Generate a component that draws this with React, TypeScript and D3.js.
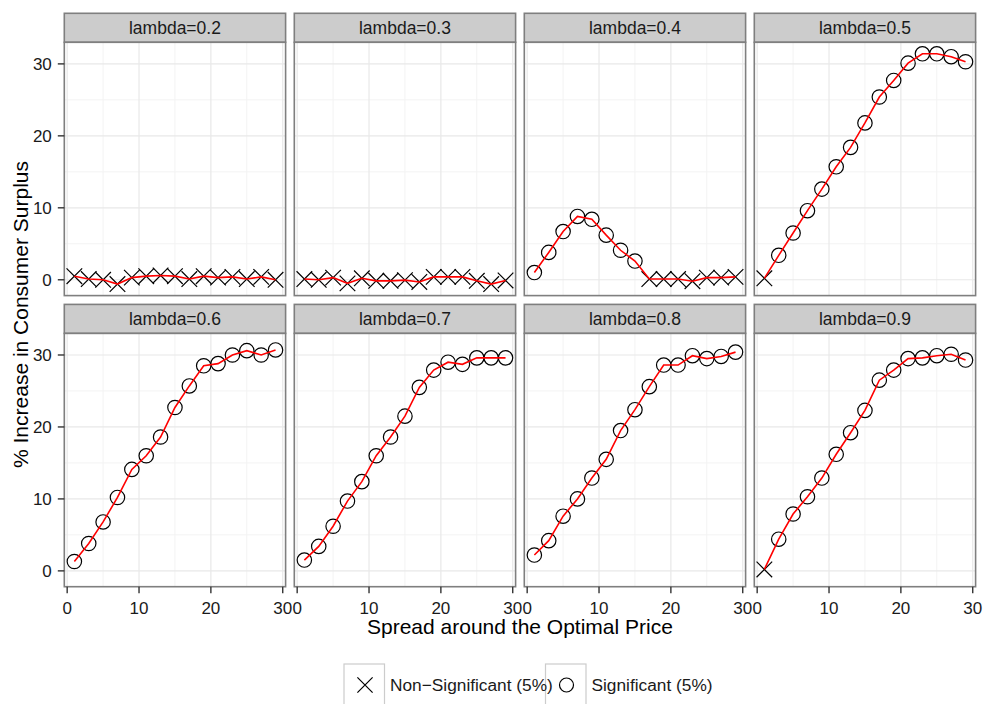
import * as d3 from "d3";

// spread values on the x axis
const spread = [1, 3, 5, 7, 9, 11, 13, 15, 17, 19, 21, 23, 25, 27, 29];
const lambdas = ["0.2", "0.3", "0.4", "0.5", "0.6", "0.7", "0.8", "0.9"];

// % increase in consumer surplus, one array per lambda
const surplus02 = [0.5, 0.1, 0.0, -0.6, 0.3, 0.5, 0.6, 0.5, 0.1, 0.5, 0.3, 0.4, 0.1, 0.4, 0.0];
const surplus03 = [0.1, 0.0, 0.3, -0.5, 0.2, -0.15, -0.15, -0.05, -0.3, 0.4, 0.4, 0.4, -0.15, -0.6, -0.1];
const surplus04 = [1.0, 3.8, 6.7, 8.8, 8.4, 6.2, 4.1, 2.6, 0.1, 0.1, 0.1, -0.2, 0.3, 0.3, 0.4];
const surplus05 = [0.2, 3.4, 6.5, 9.6, 12.6, 15.7, 18.4, 21.8, 25.4, 27.7, 30.1, 31.4, 31.4, 31.0, 30.3];
const surplus06 = [1.3, 3.8, 6.8, 10.2, 14.1, 16.0, 18.6, 22.7, 25.7, 28.5, 28.8, 30.0, 30.6, 30.0, 30.7];
const surplus07 = [1.5, 3.4, 6.2, 9.7, 12.4, 16.0, 18.6, 21.5, 25.5, 27.9, 29.0, 28.7, 29.6, 29.6, 29.6];
const surplus08 = [2.2, 4.2, 7.6, 10.0, 12.9, 15.5, 19.5, 22.4, 25.6, 28.6, 28.6, 29.9, 29.5, 29.8, 30.4];
const surplus09 = [0.2, 4.4, 7.9, 10.3, 12.9, 16.2, 19.2, 22.3, 26.5, 27.9, 29.5, 29.6, 29.9, 30.1, 29.3];

// significance at 5% (true = circle, false = cross)
const sig02 = [false, false, false, false, false, false, false, false, false, false, false, false, false, false, false];
const sig03 = [false, false, false, false, false, false, false, false, false, false, false, false, false, false, false];
const sig04 = [true, true, true, true, true, true, true, true, false, false, false, false, false, false, false];
const sig05 = [false, true, true, true, true, true, true, true, true, true, true, true, true, true, true];
const sig06 = [true, true, true, true, true, true, true, true, true, true, true, true, true, true, true];
const sig07 = [true, true, true, true, true, true, true, true, true, true, true, true, true, true, true];
const sig08 = [true, true, true, true, true, true, true, true, true, true, true, true, true, true, true];
const sig09 = [false, true, true, true, true, true, true, true, true, true, true, true, true, true, true];

const xTicks = [0, 10, 20, 30];
const yTicks = [0, 10, 20, 30];
const xMinor = [5, 15, 25];
const yMinor = [5, 15, 25];
const legendLabels = ["Non\u2212Significant (5%)", "Significant (5%)"];

const allSurplus = [surplus02, surplus03, surplus04, surplus05, surplus06, surplus07, surplus08, surplus09];
const allSig = [sig02, sig03, sig04, sig05, sig06, sig07, sig08, sig09];

const W = 985;
const H = 704;
const left = 64.3;
const top = 13.3;
const panelW = 221.3;
const gapX = 8.7;
const stripH = 29;
const panelH = 253.3;
const gapY = 8.8;
const font = "'Liberation Sans', Arial, Helvetica, sans-serif";
const legendX = [344, 545.5];

function expand(ext: [number, number]): [number, number] {
  const pad = (ext[1] - ext[0]) * 0.05;
  return [ext[0] - pad, ext[1] + pad];
}

export default function App() {
  const xDom = expand(d3.extent(spread) as [number, number]);
  const yDom = expand(d3.extent(allSurplus.flat()) as [number, number]);
  const x = d3.scaleLinear().domain(xDom).range([0, panelW]);
  const y = d3.scaleLinear().domain(yDom).range([panelH, 0]);
  const line = d3
    .line<number>()
    .x((_, i) => x(spread[i]))
    .y((d) => y(d));

  const cross = (cx: number, cy: number, s: number) =>
    `M${cx - s},${cy - s}L${cx + s},${cy + s}M${cx - s},${cy + s}L${cx + s},${cy - s}`;

  const rowsBottom = top + 2 * (stripH + panelH) + gapY;
  const legendY = 685;

  return (
    <svg width={W} height={H} style={{ position: "absolute", left: 0, top: 0 }} fontFamily={font}>
      <rect width={W} height={H} fill="white" />
      {lambdas.map((lam, k) => {
        const col = k % 4;
        const row = Math.floor(k / 4);
        const px = left + col * (panelW + gapX);
        const sy = top + row * (stripH + panelH + gapY);
        const py = sy + stripH;
        const vals = allSurplus[k];
        const sig = allSig[k];
        return (
          <g key={lam}>
            {/* strip */}
            <rect x={px} y={sy} width={panelW} height={stripH} fill="#cccccc" stroke="#7f7f7f" strokeWidth={1.6} />
            <text x={px + panelW / 2} y={sy + 20.8} textAnchor="middle" fontSize={17.5} fill="#1a1a1a">
              {`lambda=${lam}`}
            </text>
            <g transform={`translate(${px},${py})`}>
              <rect width={panelW} height={panelH} fill="white" />
              {xMinor.map((t) => (
                <line key={"xm" + t} x1={x(t)} x2={x(t)} y1={0} y2={panelH} stroke="#f3f3f3" strokeWidth={1} />
              ))}
              {yMinor.map((t) => (
                <line key={"ym" + t} x1={0} x2={panelW} y1={y(t)} y2={y(t)} stroke="#f3f3f3" strokeWidth={1} />
              ))}
              {xTicks.map((t) => (
                <line key={"xM" + t} x1={x(t)} x2={x(t)} y1={0} y2={panelH} stroke="#e8e8e8" strokeWidth={1.2} />
              ))}
              {yTicks.map((t) => (
                <line key={"yM" + t} x1={0} x2={panelW} y1={y(t)} y2={y(t)} stroke="#e8e8e8" strokeWidth={1.2} />
              ))}
              {vals.map((v, i) =>
                sig[i] ? (
                  <circle key={i} cx={x(spread[i])} cy={y(v)} r={7.2} fill="none" stroke="black" strokeWidth={1.2} />
                ) : (
                  <path key={i} d={cross(x(spread[i]), y(v), 7.8)} fill="none" stroke="black" strokeWidth={1.2} />
                )
              )}
              <path d={line(vals) ?? ""} fill="none" stroke="#ff0000" strokeWidth={1.6} />
              <rect width={panelW} height={panelH} fill="none" stroke="#7f7f7f" strokeWidth={1.6} />
              {col === 0 &&
                yTicks.map((t) => (
                  <g key={"yt" + t}>
                    <line x1={-6.5} x2={0} y1={y(t)} y2={y(t)} stroke="#333" strokeWidth={1.4} />
                    <text x={-12.5} y={y(t)} dy="0.36em" textAnchor="end" fontSize={17} fill="#1a1a1a">
                      {t}
                    </text>
                  </g>
                ))}
              {row === 1 &&
                xTicks.map((t) => (
                  <g key={"xt" + t}>
                    <line x1={x(t)} x2={x(t)} y1={panelH} y2={panelH + 6.5} stroke="#333" strokeWidth={1.4} />
                    <text x={x(t)} y={panelH + 27} textAnchor="middle" fontSize={17} fill="#1a1a1a">
                      {t}
                    </text>
                  </g>
                ))}
            </g>
          </g>
        );
      })}
      {/* axis titles */}
      <text x={left + (4 * panelW + 3 * gapX) / 2} y={rowsBottom + 47} textAnchor="middle" fontSize={21} fill="black">
        Spread around the Optimal Price
      </text>
      <text
        transform={`translate(28,${(top + stripH + rowsBottom) / 2}) rotate(-90)`}
        textAnchor="middle"
        fontSize={21}
        fill="black"
      >
        % Increase in Consumer Surplus
      </text>
      {/* legend: key boxes first, then symbols and labels on top */}
      {legendX.map((bx) => (
        <rect key={"box" + bx} x={bx} y={664} width={40.5} height={42} fill="white" stroke="#cccccc" strokeWidth={1.2} />
      ))}
      {legendLabels.map((lab, i) => {
        const bx = legendX[i];
        const cx = bx + 21;
        return (
          <g key={lab}>
            {i === 0 ? (
              <path d={cross(cx, legendY, 7.6)} fill="none" stroke="black" strokeWidth={1.2} />
            ) : (
              <circle cx={cx} cy={legendY} r={7} fill="none" stroke="black" strokeWidth={1.2} />
            )}
            <text x={bx + 46} y={legendY} dy="0.36em" fontSize={17.3} fill="#1a1a1a">
              {lab}
            </text>
          </g>
        );
      })}
    </svg>
  );
}
